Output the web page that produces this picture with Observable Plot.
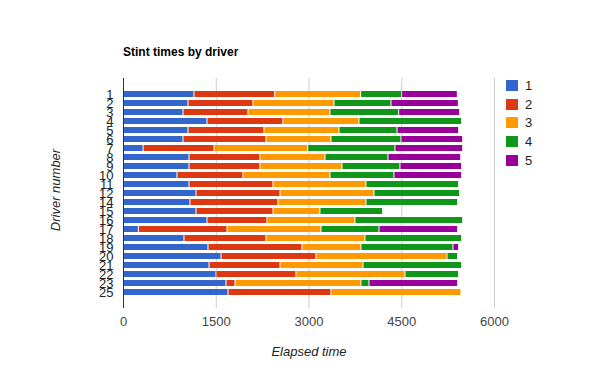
<!DOCTYPE html>
<html>
<head>
<meta charset="utf-8">
<script src="https://cdn.jsdelivr.net/npm/d3@7"></script>
<script src="https://cdn.jsdelivr.net/npm/@observablehq/plot@0.6"></script>
<style>
  body { margin: 0; background: #fff; font-family: Arial, "Liberation Sans", sans-serif; }
  #wrap { position: relative; width: 600px; height: 371px; overflow: hidden; }
  #chart { position: absolute; left: 0; top: 0; }
  .title { position: absolute; left: 123px; top: 45px; font-size: 12px; font-weight: bold; color: #000; white-space: nowrap; }
  .xlab { position: absolute; left: 309px; top: 344px; transform: translateX(-50%); font-size: 13px; font-style: italic; color: #222; white-space: nowrap; }
  .ylab { position: absolute; left: 55px; top: 190px; transform: translate(-50%, -50%) rotate(-90deg); font-size: 13px; font-style: italic; color: #222; white-space: nowrap; }
  .legend { position: absolute; left: 506px; top: 80px; }
  .legend .item { height: 18.7px; display: flex; align-items: flex-start; font-size: 13px; color: #222; }
  .legend .sw { width: 12px; height: 11px; margin-right: 7px; margin-top: 0px; }
  .legend .lbl { line-height: 11px; }
</style>
</head>
<body>
<div id="wrap">
  <div id="chart"></div>
  <div class="title">Stint times by driver</div>
  <div class="xlab">Elapsed time</div>
  <div class="ylab">Driver number</div>
  <div class="legend" id="legend"></div>
</div>
<script>
const drivers = ["1","2","3","4","5","6","7","8","9","10","11","12","14","15","16","17","18","19","20","21","22","23","25"];
const stints = ["1","2","3","4","5"];
const colors = ["#3366cc","#dc3912","#ff9900","#109618","#990099"];
const xTicks = [0, 1500, 3000, 4500, 6000];

// stint durations per driver (same order as drivers)
const stint1 = [1148,1051,970,1358,1051,970,324,1067,1067,873,1067,1180,1083,1180,1358,249,986,1374,1585,1391,1504,1666,1698];
const stint2 = [1305,1051,1051,1229,1229,1342,1148,1148,1148,1067,1359,1359,1423,1246,970,1433,1326,1520,1536,1148,1293,145,1665];
const stint3 = [1390,1310,1326,1229,1213,1051,1515,1051,1326,1407,1503,1520,1423,759,1423,1520,1601,954,2118,1342,1763,2037,2103];
const stint4 = [663,922,1111,1661,938,1133,1411,1019,938,1035,1499,1385,1483,1014,1742,938,1564,1488,173,1596,868,130,0];
const stint5 = [901,1089,986,0,997,997,1095,1176,998,1095,0,0,0,0,0,1272,0,92,0,0,0,1434,0];

const series = [stint1, stint2, stint3, stint4, stint5];
const data = [];
drivers.forEach((d, i) => {
  series.forEach((s, j) => {
    if (s[i] > 0) data.push({driver: d, stint: stints[j], value: s[i]});
  });
});

const chart = Plot.plot({
  width: 600,
  height: 371,
  marginLeft: 123,
  marginRight: 106,
  marginTop: 78,
  marginBottom: 63,
  style: {fontFamily: "Arial, 'Liberation Sans', sans-serif", background: "transparent"},
  x: {domain: [0, 6000], ticks: xTicks},
  y: {domain: drivers, padding: 0.3},
  color: {domain: stints, range: colors},
  marks: [
    Plot.ruleX(xTicks.slice(1), {stroke: "#cccccc", strokeWidth: 1}),
    Plot.barX(data, Plot.stackX({x: "value", y: "driver", fill: "stint", insetLeft: 0.5, insetRight: 0.5})),
    Plot.ruleX([0], {stroke: "#333333", strokeWidth: 1}),
    Plot.axisX({ticks: xTicks, tickSize: 0, tickPadding: 8, fontSize: 13, fill: "#444", label: null, tickFormat: d => String(d)}),
    Plot.axisY({tickSize: 0, tickPadding: 10, fontSize: 13, fill: "#222", label: null})
  ]
});
document.getElementById("chart").appendChild(chart);

const legend = document.getElementById("legend");
stints.forEach((s, i) => {
  const item = document.createElement("div");
  item.className = "item";
  item.innerHTML = `<div class="sw" style="background:${colors[i]}"></div><div class="lbl">${s}</div>`;
  legend.appendChild(item);
});
</script>
</body>
</html>
